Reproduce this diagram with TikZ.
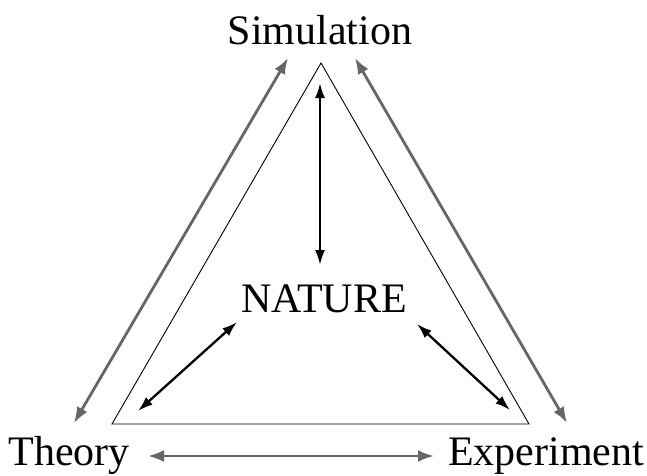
\documentclass[tikz,border=0pt]{standalone}
\usepackage{fontspec}
\setmainfont{Liberation Serif}
\usetikzlibrary{positioning,arrows.meta}

\begin{document}
\begin{tikzpicture}[x=1pt,y=1pt,every node/.style = {inner sep=0pt, anchor=base, font=\fontsize{42}{48}\selectfont},link/.style={draw=black!60, line width=2.8pt, {Latex[length=16pt,width=12pt]}-{Latex[length=16pt,width=12pt]}},pull/.style={draw=black, line width=2.3pt, {Latex[length=15pt,width=10pt]}-{Latex[length=15pt,width=10pt]}}]
\useasboundingbox (0,0) rectangle (647,475);
% labels
\node(sim) at (320,430) {Simulation};
\node(theory) at (69,10) {Theory};
\node(exp) at (546,10) {Experiment};
\node(nature) at (324,163) {NATURE};
% triangle
\coordinate(top) at (321,412);
\coordinate(left) at (112,51);
\coordinate(right) at (529,51);
\draw[line width=0.9pt] (top) -- (left) -- (right) -- cycle;
% outer arrows
\coordinate(t1) at (74,52); \coordinate(s1) at (288,417);
\coordinate(s2) at (355,417); \coordinate(e1) at (567,52);
\coordinate(t2) at (148,19); \coordinate(e2) at (434,19);
\draw[link] (t1) -- (s1);
\draw[link] (s2) -- (e1);
\draw[link] (t2) -- (e2);
% inner arrows
\coordinate(n1) at (320,210); \coordinate(a1) at (320,392);
\coordinate(n2) at (237,153); \coordinate(a2) at (138,64);
\coordinate(n3) at (417,151); \coordinate(a3) at (510,65);
\draw[pull] (n1) -- (a1);
\draw[pull] (n2) -- (a2);
\draw[pull] (n3) -- (a3);
\end{tikzpicture}
\end{document}
